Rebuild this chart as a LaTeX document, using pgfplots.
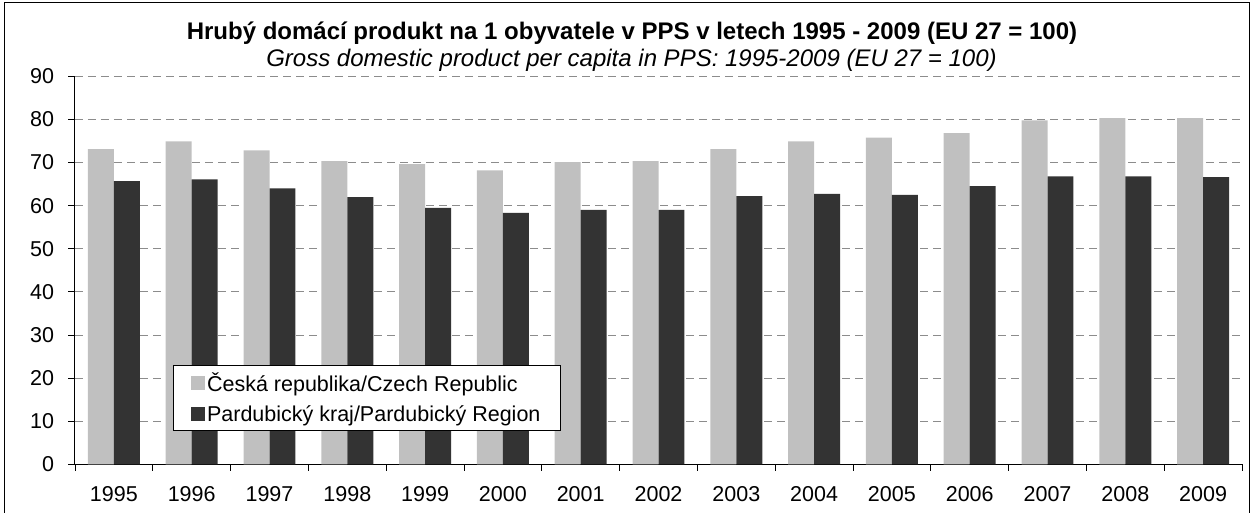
\documentclass[border=0pt]{standalone}
\usepackage{fontspec}
\setmainfont{Liberation Sans}
\usepackage{pgfplots}
\pgfplotsset{compat=1.18}
\definecolor{lightbar}{HTML}{C0C0C0}
\definecolor{darkbar}{HTML}{333333}
\definecolor{gridgray}{HTML}{8C8C8C}
\begin{document}
\begin{tikzpicture}
\useasboundingbox (-75pt,-47.7pt) rectangle (1177pt,464.3pt);
\draw[line width=1pt] (-70pt,-50pt) -- (-70pt,461.3pt) -- (1174pt,461.3pt) -- (1174pt,-50pt);
\node[font=\fontsize{24}{28}\selectfont\bfseries] at (557pt,431.3pt) {Hrubý domácí produkt na 1 obyvatele v PPS v letech 1995 - 2009 (EU 27 = 100)};
\node[font=\fontsize{24}{28}\selectfont\itshape] at (556.5pt,404.3pt) {Gross domestic product per capita in PPS: 1995-2009 (EU 27 = 100)};
\begin{axis}[
  at={(0pt,0pt)}, anchor=south west,
  scale only axis, width=1167pt, height=388pt,
  xmin=-0.5, xmax=14.5, ymin=0, ymax=90,
  ybar=0pt, bar width=0.334,
  axis x line*=bottom, axis y line*=left,
  axis line style={-, line width=1pt, black},
  tick align=outside, major tick length=6.5pt,
  tick style={black, line width=0.8pt},
  xtick={-0.5,0.5,...,14.5}, xticklabels={},
  extra x ticks={0,1,...,14},
  extra x tick labels={1995,1996,1997,1998,1999,2000,2001,2002,2003,2004,2005,2006,2007,2008,2009},
  extra x tick style={grid=none, major tick length=0pt,
    tick label style={yshift=-19pt}},
  ytick={0,10,...,90},
  ymajorgrids,
  major grid style={gridgray, dash pattern=on 8pt off 5pt, line width=0.8pt},
  /pgf/number format/assume math mode=true,
  tick label style={font=\fontsize{21.5}{25}\selectfont},
  yticklabel style={xshift=-11pt},
  legend style={at={(axis description cs:0.0837,0.256)}, anchor=north west,
    draw=black, line width=0.8pt, fill=white, font=\fontsize{21.5}{25}\selectfont,
    inner xsep=18pt, inner ysep=5pt, row sep=9pt},
  legend cell align=left,
  legend image code/.code={\fill[#1] (0pt,-7pt) rectangle (14pt,7pt);},
]
\addplot[draw=none, fill=lightbar] coordinates {
(0,73.1) (1,74.9) (2,72.8) (3,70.3) (4,69.6) (5,68.2) (6,70.1) (7,70.3)
(8,73.1) (9,74.9) (10,75.8) (11,76.8) (12,79.8) (13,80.3) (14,80.3)};
\addplot[draw=none, fill=darkbar] coordinates {
(0,65.7) (1,66.1) (2,64.0) (3,62.0) (4,59.5) (5,58.3) (6,59.0) (7,59.0)
(8,62.2) (9,62.7) (10,62.5) (11,64.5) (12,66.8) (13,66.8) (14,66.6)};
\legend{Česká republika/Czech Republic, Pardubický kraj/Pardubický Region}
\end{axis}
\end{tikzpicture}
\end{document}
